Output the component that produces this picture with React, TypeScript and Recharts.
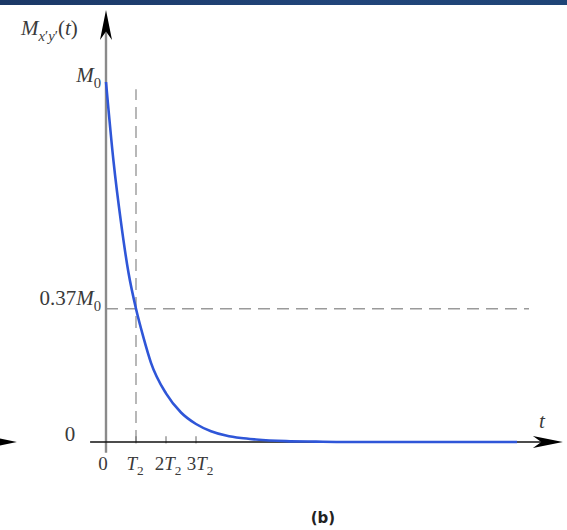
import React from "react"
import { LineChart, Line, XAxis, YAxis, ReferenceLine } from "recharts"

// decay curve M(t), t in units of T2, M in units of M0
const tValues = [0, 0.25, 0.5, 0.75, 1, 1.25, 1.5, 2, 2.5, 3, 3.5, 4, 4.5, 5, 6, 7, 8, 10, 12, 13.7]
const mValues = [1, 0.78, 0.61, 0.47, 0.37, 0.29, 0.22, 0.135, 0.082, 0.05, 0.03, 0.018, 0.011, 0.007, 0.0025, 0.001, 0, 0, 0, 0]

const xTicks = [0, 1, 2, 3]
const xTickLabels = ["0", "T_2", "2T_2", "3T_2"]
const yTicks = [0, 0.37, 1]
const yTickLabels = ["0", "0.37M_0", "M_0"]
const markerT = 1 // T2
const markerM = 0.37

const data = tValues.map((t, i) => ({ t, m: mValues[i] }))

const MATH_FONT = "'Liberation Serif', 'DejaVu Serif', serif"
const TEXT_COLOR = "#3a3a3a"

function parseMath(src: string) {
  const segs: { text: string; sub: boolean }[] = []
  let buf = ""
  let i = 0
  while (i < src.length) {
    const c = src[i]
    if (c === "_") {
      if (buf) segs.push({ text: buf, sub: false })
      buf = ""
      let s: string
      if (src[i + 1] === "{") {
        const j = src.indexOf("}", i)
        s = src.slice(i + 2, j)
        i = j + 1
      } else {
        s = src[i + 1]
        i += 2
      }
      segs.push({ text: s, sub: true })
    } else {
      buf += c
      i++
    }
  }
  if (buf) segs.push({ text: buf, sub: false })
  return segs
}

function MathText({
  x,
  y,
  src,
  size = 21,
  anchor = "start",
}: {
  x: number
  y: number
  src: string
  size?: number
  anchor?: "start" | "middle" | "end"
}) {
  let shift = 0
  const spans: React.ReactNode[] = []
  parseMath(src).forEach((seg, si) => {
    const runs = seg.text.match(/[A-Za-z]+|[^A-Za-z]+/g) || []
    runs.forEach((run, ri) => {
      const target = seg.sub ? size * 0.28 : 0
      const dy = target - shift
      shift = target
      spans.push(
        <tspan
          key={`${si}-${ri}`}
          dy={dy}
          fontStyle={/[A-Za-z]/.test(run) ? "italic" : "normal"}
          fontSize={seg.sub ? size * 0.7 : size}
        >
          {run.replace(/'/g, "\u2032")}
        </tspan>
      )
    })
  })
  return (
    <text x={x} y={y} textAnchor={anchor} fontFamily={MATH_FONT} fill={TEXT_COLOR}>
      {spans}
    </text>
  )
}

// small nudges so the labels sit like the original typesetting
const X_TICK_NUDGE = [-3, -1, 2, 4]

function XTick(props: any) {
  const { x, index } = props
  return <MathText x={x + X_TICK_NUDGE[index]} y={470} src={xTickLabels[index]} size={19} anchor="middle" />
}

function YTick(props: any) {
  const { x, y, index } = props
  const label = yTickLabels[index]
  if (label === "0") return <MathText x={x - 28} y={y - 1} src={label} anchor="middle" />
  return <MathText x={x + 3} y={label === "M_0" ? y : y - 4} src={label} anchor="end" />
}

// axis line with a notched arrowhead at its end
function ArrowLine(props: any) {
  const { x1, y1, x2, y2, stroke, strokeWidth } = props
  const len = Math.hypot(x2 - x1, y2 - y1) || 1
  const dx = (x2 - x1) / len
  const dy = (y2 - y1) / len
  const L = 30
  const W = 6
  const bx = x2 - dx * L
  const by = y2 - dy * L
  const pts = [
    [x2, y2],
    [bx - dy * W, by + dx * W],
    [x2 - dx * L * 0.72, y2 - dy * L * 0.72],
    [bx + dy * W, by - dx * W],
  ]
    .map((p) => p.join(","))
    .join(" ")
  return (
    <g>
      <line
        x1={x1}
        y1={y1}
        x2={x2 - dx * L * 0.7}
        y2={y2 - dy * L * 0.7}
        stroke={stroke}
        strokeWidth={strokeWidth}
      />
      <polygon points={pts} fill="#000" />
    </g>
  )
}

export default function App() {
  return (
    <div style={{ position: "absolute", left: 0, top: 0, width: 567, height: 530, background: "#fff" }}>
      <div
        style={{
          position: "absolute",
          left: 0,
          top: 0,
          width: 567,
          height: 5,
          background: "linear-gradient(90deg, #1b3866, #21457a 60%, #1f4476)",
        }}
      />
      <LineChart width={567} height={530} data={data} margin={{ top: 82, right: 41, bottom: 58, left: 46 }}>
        <XAxis
          type="number"
          dataKey="t"
          domain={[0, 14]}
          ticks={xTicks}
          interval={0}
          axisLine={false}
          tickLine={false}
          tick={<XTick />}
          height={30}
        />
        <YAxis
          type="number"
          domain={[0, 1]}
          ticks={yTicks}
          interval={0}
          axisLine={false}
          tickLine={false}
          tick={<YTick />}
          width={60}
        />
        {/* dashed guides */}
        <ReferenceLine
          segment={[{ x: markerT, y: 0 }, { x: markerT, y: 0.98 }]}
          stroke="#9a9a9a"
          strokeWidth={1.4}
          strokeDasharray="12 7"
          ifOverflow="visible"
        />
        <ReferenceLine
          segment={[{ x: 0, y: markerM }, { x: 14.1, y: markerM }]}
          stroke="#9a9a9a"
          strokeWidth={1.4}
          strokeDasharray="12 7"
          ifOverflow="visible"
        />
        {/* tick marks on the time axis */}
        {xTicks.slice(1).map((v) => (
          <ReferenceLine
            key={v}
            segment={[{ x: v, y: -0.004 }, { x: v, y: 0.016 }]}
            stroke="#666"
            strokeWidth={1}
            ifOverflow="visible"
          />
        ))}
        {/* axes */}
        <ReferenceLine
          segment={[{ x: 0, y: -0.03 }, { x: 0, y: 1.2 }]}
          stroke="#8a8a8a"
          strokeWidth={2.4}
          ifOverflow="visible"
          shape={(p: any) => <ArrowLine {...p} stroke="#8a8a8a" strokeWidth={2.4} />}
        />
        <ReferenceLine
          segment={[{ x: -0.53, y: 0 }, { x: 15.23, y: 0 }]}
          stroke="#111"
          strokeWidth={1.4}
          ifOverflow="visible"
          shape={(p: any) => <ArrowLine {...p} stroke="#111" strokeWidth={1.4} />}
        />
        {/* fragment of the neighbouring panel's axis */}
        <ReferenceLine
          segment={[{ x: -3.6, y: 0 }, { x: -2.97, y: 0 }]}
          stroke="#111"
          strokeWidth={1.4}
          ifOverflow="visible"
          shape={(p: any) => <ArrowLine {...p} stroke="#111" strokeWidth={1.4} />}
        />
        <Line
          type="monotone"
          dataKey="m"
          stroke="#2f56d8"
          strokeWidth={2.6}
          dot={false}
          isAnimationActive={false}
        />
      </LineChart>
      <svg width={567} height={530} style={{ position: "absolute", left: 0, top: 0, pointerEvents: "none" }}>
        <MathText x={21} y={35} src="M_{x'y'}(t)" />
        <MathText x={542} y={428} src="t" anchor="middle" />
        <text
          x={323}
          y={523}
          textAnchor="middle"
          fontFamily="'DejaVu Sans', sans-serif"
          fontWeight="bold"
          fontSize={15}
          fill="#222"
        >
          (b)
        </text>
      </svg>
    </div>
  )
}
